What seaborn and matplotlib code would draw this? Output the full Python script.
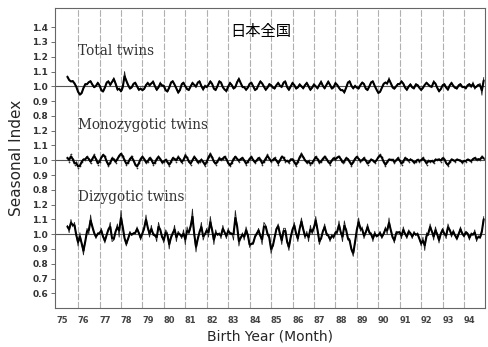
import numpy as np
import pandas as pd
import matplotlib
matplotlib.use("Agg")
import matplotlib.pyplot as plt
import seaborn as sns

# ---- data (seasonal index in %, monthly, Jul 1975 - Dec 1994) ----
total_pct = [
    107, 104, 103, 104, 102, 100,
    96, 94, 95, 99, 102, 101, 103, 104, 101, 99, 100, 103,
    101, 97, 96, 99, 103, 104, 100, 103, 106, 102, 97, 99,
    96, 98, 110, 103, 101, 98, 99, 102, 103, 100, 97, 99,
    97, 98, 101, 103, 100, 102, 104, 100, 97, 99, 103, 100,
    101, 97, 96, 99, 103, 104, 101, 99, 95, 97, 102, 103,
    100, 98, 97, 100, 103, 101, 99, 103, 104, 100, 97, 101,
    99, 101, 104, 102, 98, 97, 100, 104, 103, 99, 98, 96,
    100, 103, 101, 98, 99, 103, 106, 102, 99, 100, 97, 99,
    102, 103, 100, 97, 98, 101, 104, 102, 100, 97, 99, 102,
    101, 99, 98, 101, 103, 100, 99, 103, 104, 99, 97, 100,
    103, 101, 98, 99, 102, 100, 98, 101, 103, 100, 97, 99,
    102, 100, 98, 101, 104, 100, 98, 101, 104, 101, 98, 99,
    103, 101, 99, 97, 98, 95, 99, 103, 104, 100, 98, 101,
    99, 98, 101, 103, 102, 98, 97, 100, 103, 104, 100, 98,
    95, 96, 99, 102, 103, 101, 106, 102, 99, 98, 100, 102,
    101, 104, 102, 99, 97, 100, 102, 99, 98, 102, 101, 99,
    97, 99, 101, 103, 101, 100, 99, 104, 102, 99, 96, 98,
    101, 102, 99, 97, 101, 103, 100, 99, 98, 101, 102, 99,
    100, 98, 101, 102, 99, 103, 98, 100, 101, 102, 94, 106,
]
mono_pct = [
    102, 99, 104, 101, 97, 99,
    95, 96, 99, 101, 100, 103, 101, 98, 101, 104, 101, 97,
    99, 102, 104, 103, 99, 96, 98, 102, 101, 98, 101, 103,
    105, 103, 100, 97, 98, 101, 103, 100, 97, 95, 98, 101,
    103, 101, 98, 99, 102, 101, 97, 98, 101, 103, 101, 98,
    99, 101, 99, 96, 99, 102, 101, 99, 103, 101, 98, 100,
    104, 102, 99, 97, 100, 103, 101, 98, 99, 101, 99, 96,
    99, 102, 105, 102, 99, 97, 99, 102, 100, 101, 103, 101,
    98, 96, 98, 101, 103, 101, 99, 101, 102, 100, 97, 99,
    101, 103, 100, 98, 100, 102, 101, 97, 99, 101, 104, 101,
    99, 100, 102, 100, 97, 100, 103, 102, 99, 100, 98, 101,
    101, 99, 96, 99, 102, 105, 102, 100, 98, 100, 97, 98,
    100, 103, 101, 98, 99, 101, 103, 101, 99, 97, 100, 102,
    100, 102, 103, 101, 98, 99, 102, 101, 99, 96, 99, 101,
    103, 101, 99, 100, 102, 100, 97, 99, 101, 100, 98, 100,
    102, 104, 102, 99, 96, 99, 101, 100, 101, 98, 100, 102,
    100, 97, 99, 102, 101, 99, 101, 100, 98, 99, 101, 99,
    100, 102, 100, 97, 100, 99, 100, 98, 101, 100, 101, 99,
    102, 101, 98, 96, 99, 101, 100, 99, 101, 100, 100, 98,
    100, 99, 101, 100, 99, 101, 102, 100, 101, 100, 103, 101,
]
dizy_pct = [
    106, 101, 110, 105, 108, 99,
    92, 101, 94, 86, 95, 104, 100, 113, 104, 101, 97, 101,
    100, 104, 98, 94, 100, 103, 108, 95, 96, 102, 107, 98,
    116, 104, 97, 92, 97, 102, 99, 101, 100, 105, 101, 96,
    101, 103, 113, 104, 98, 106, 99, 100, 95, 108, 103, 98,
    94, 103, 101, 90, 99, 100, 106, 95, 102, 100, 97, 103,
    93, 105, 100, 104, 117, 99, 88, 98, 101, 108, 96, 100,
    104, 98, 112, 103, 93, 103, 99, 101, 97, 106, 101, 97,
    104, 100, 101, 96, 116, 106, 92, 98, 101, 96, 105, 100,
    91, 94, 93, 99, 100, 104, 99, 93, 108, 106, 99, 100,
    87, 92, 98, 104, 107, 100, 93, 104, 104, 94, 89, 99,
    103, 108, 100, 95, 104, 111, 103, 97, 102, 95, 106, 100,
    104, 112, 103, 93, 97, 102, 107, 99, 100, 95, 100, 97,
    102, 100, 109, 101, 95, 109, 103, 96, 97, 89, 85, 95,
    103, 111, 102, 105, 97, 101, 107, 100, 101, 95, 102, 98,
    99, 102, 97, 100, 105, 100, 111, 102, 98, 94, 102, 101,
    102, 97, 105, 100, 97, 103, 101, 97, 102, 99, 101, 97,
    92, 98, 89, 101, 99, 107, 102, 96, 105, 100, 94, 101,
    104, 100, 97, 107, 103, 98, 103, 99, 96, 100, 105, 100,
    98, 102, 101, 96, 101, 99, 103, 95, 99, 97, 101, 112,
]
year_labels = [str(y) for y in range(75, 95)]
series_names = ["Total twins", "Monozygotic twins", "Dizygotic twins"]
ytick_values = [0.6, 0.7, 0.8, 0.9, 1.0, 1.1, 1.2,
                0.8, 0.9, 1.0, 1.1, 1.2,
                0.8, 0.9, 1.0, 1.1, 1.2, 1.3, 1.4]

# ---- stacking offsets of the three panels on one axis ----
offsets = {"Total twins": 1.0, "Monozygotic twins": 0.5, "Dizygotic twins": 0.0}

frames = []
for name, vals in zip(series_names, [total_pct, mono_pct, dizy_pct]):
    v = pd.Series(np.array(vals, dtype=float) / 100.0)
    t = 75 + (6 + np.arange(len(v))) / 12.0
    smooth = (v.shift(1).fillna(v) + 4 * v + v.shift(-1).fillna(v)) / 6.0
    frames.append(pd.DataFrame({"t": t, "raw": v + offsets[name],
                                "smooth": smooth + offsets[name], "series": name}))
df = pd.concat(frames, ignore_index=True)

sns.set_style("white")
plt.rcParams["font.family"] = ["DejaVu Sans"]

fig = plt.figure(figsize=(4.88, 3.47), dpi=100)
ax = fig.add_axes([0.113, 0.112, 0.881, 0.865])

# vertical year lines
for yr in range(76, 95):
    ax.axvline(yr, color="#b0b0b0", lw=0.8, ls=(0, (6, 1.5)), zorder=0)

# reference lines at 1.0
for name in series_names:
    ax.axhline(1.0 + offsets[name], color="#555555", lw=0.8, zorder=1)

for name in series_names:
    d = df[df["series"] == name]
    if name == "Monozygotic twins":
        sns.lineplot(data=d, x="t", y="raw", ax=ax, color="#333333", lw=0.7,
                     ls=(0, (1, 1.5)), zorder=2)
        sns.scatterplot(data=d, x="t", y="raw", ax=ax, color="#333333", s=1.5,
                        linewidth=0, zorder=2)
    else:
        sns.lineplot(data=d, x="t", y="raw", ax=ax, color="#222222", lw=0.6,
                     zorder=2)
    sns.lineplot(data=d, x="t", y="smooth", ax=ax, color="black", lw=1.5,
                 zorder=3)

ax.set_xlim(74.93, 94.98)
ax.set_ylim(0.5, 2.53)

ytick_pos = [0.6, 0.7, 0.8, 0.9, 1.0, 1.1, 1.2,
             1.3, 1.4, 1.5, 1.6, 1.7,
             1.8, 1.9, 2.0, 2.1, 2.2, 2.3, 2.4]
ax.set_yticks(ytick_pos)
ax.set_yticklabels([f"{v:.1f}" for v in ytick_values], fontsize=6.5,
                   color="#333333", fontweight="bold")
ax.tick_params(axis="y", length=3, width=0.6, color="#555555", pad=2, left=True)

ax.set_xticks([int(l) + 0.25 for l in year_labels])
ax.set_xticklabels(year_labels, fontsize=6, color="#444444", fontweight="bold")
ax.tick_params(axis="x", length=0, pad=6)

for s in ax.spines.values():
    s.set_color("#666666")
    s.set_linewidth(0.8)

ax.set_xlabel("Birth Year (Month)", fontsize=10, labelpad=3)
ax.set_ylabel("Seasonal Index", fontsize=11, labelpad=6)

# series titles
lab_y = {"Total twins": 2.24, "Monozygotic twins": 1.74, "Dizygotic twins": 1.25}
for name in series_names:
    ax.text(76.0, lab_y[name], name, family="DejaVu Serif", fontsize=9.8,
            color="#333333", va="center", ha="left")

ax.text(84.5, 2.37, "日本全国", family=["Noto Sans CJK JP", "DejaVu Sans"],
        fontsize=11, ha="center", va="center", color="black")

fig.savefig("out.png", dpi=100)
